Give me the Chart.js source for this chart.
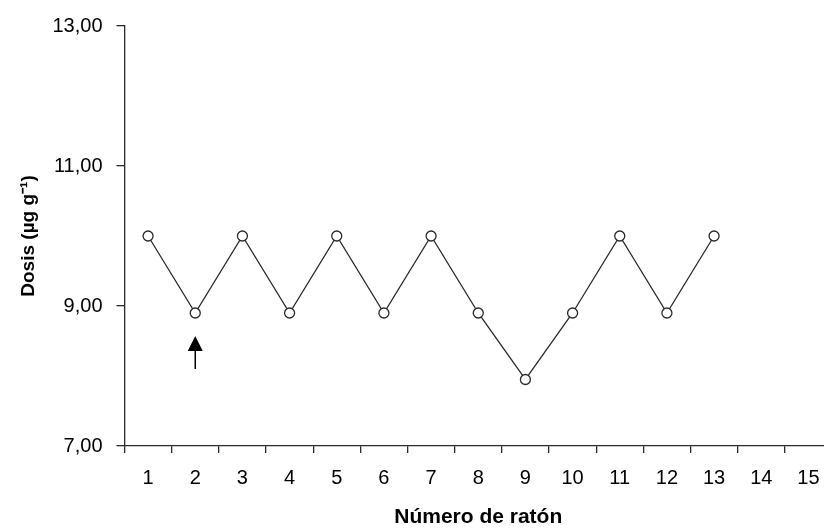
<!DOCTYPE html>
<html>
<head>
<meta charset="utf-8">
<script src="https://cdn.jsdelivr.net/npm/chart.js@4/dist/chart.umd.min.js"></script>
<style>
  html, body { margin: 0; padding: 0; background: #fff; overflow: hidden; }
  #wrap { width: 840px; height: 531px; position: relative; }
</style>
</head>
<body>
<div id="wrap"><canvas id="c"></canvas></div>
<script>
// Mouse number (x categories) and dose values
const labels = ['1', '2', '3', '4', '5', '6', '7', '8', '9', '10', '11', '12', '13', '14', '15'];
const dosis = [10, 8.9, 10, 8.9, 10, 8.9, 10, 8.9, 7.95, 8.9, 10, 8.9, 10];
const yTicks = [7, 9, 11, 13];

// Arrow under mouse 2 (category, bottom value, tip value)
const arrowCat = '2';
const arrowFrom = 8.1;
const arrowTo = 8.57;

const FONT = '"Liberation Sans", Arial, sans-serif';
const INK = '#2a2a2a';

const arrowPlugin = {
  id: 'arrow',
  afterDatasetsDraw(chart) {
    const { ctx, scales } = chart;
    const x = scales.x.getPixelForValue(labels.indexOf(arrowCat));
    const yTip = scales.y.getPixelForValue(arrowTo);
    const yEnd = scales.y.getPixelForValue(arrowFrom);
    ctx.save();
    ctx.strokeStyle = '#000';
    ctx.fillStyle = '#000';
    ctx.lineWidth = 1.5;
    ctx.beginPath();
    ctx.moveTo(x, yTip + 12);
    ctx.lineTo(x, yEnd);
    ctx.stroke();
    ctx.beginPath();
    ctx.moveTo(x, yTip);
    ctx.lineTo(x - 7.5, yTip + 15);
    ctx.lineTo(x + 7.5, yTip + 15);
    ctx.closePath();
    ctx.fill();
    ctx.restore();
  }
};

new Chart(document.getElementById('c'), {
  type: 'line',
  data: {
    labels,
    datasets: [{
      data: dosis,
      borderColor: INK,
      borderWidth: 1.3,
      backgroundColor: '#fff',
      pointBackgroundColor: '#fff',
      pointBorderColor: INK,
      pointBorderWidth: 1.3,
      pointRadius: 5,
      tension: 0,
      fill: false,
    }]
  },
  options: {
    responsive: true,
    maintainAspectRatio: false,
    animation: false,
    events: [],
    layout: { padding: { top: 21, right: 8, left: 0, bottom: 0 } },
    plugins: { legend: { display: false }, tooltip: { enabled: false } },
    scales: {
      x: {
        type: 'category',
        offset: true,
        border: { color: INK, width: 1.3 },
        grid: { offset: true, drawOnChartArea: false, drawTicks: true, tickLength: 7, color: INK, lineWidth: 1.3 },
        ticks: { color: '#000', font: { family: FONT, size: 20 }, padding: 13, maxRotation: 0, autoSkip: false },
        title: { display: true, text: 'Número de ratón', color: '#000', font: { family: FONT, size: 21, weight: 'bold' }, padding: { top: 8, bottom: 1 } },
        afterFit(s) { s.height = 85; }
      },
      y: {
        min: 7,
        max: 13,
        afterBuildTicks(s) { s.ticks = yTicks.map(v => ({ value: v })); },
        border: { color: INK, width: 1.3 },
        grid: { drawOnChartArea: false, drawTicks: true, tickLength: 8, color: INK, lineWidth: 1.3 },
        ticks: {
          color: '#000',
          font: { family: FONT, size: 20 },
          padding: 14,
          callback: v => v.toFixed(2).replace('.', ',')
        },
        title: { display: true, text: 'Dosis (µg g⁻¹)', color: '#000', font: { family: FONT, size: 19, weight: 'bold' }, padding: { top: 17, bottom: 0 } },
        afterFit(s) { s.width = 124.5; }
      }
    }
  },
  plugins: [arrowPlugin]
});
</script>
</body>
</html>
